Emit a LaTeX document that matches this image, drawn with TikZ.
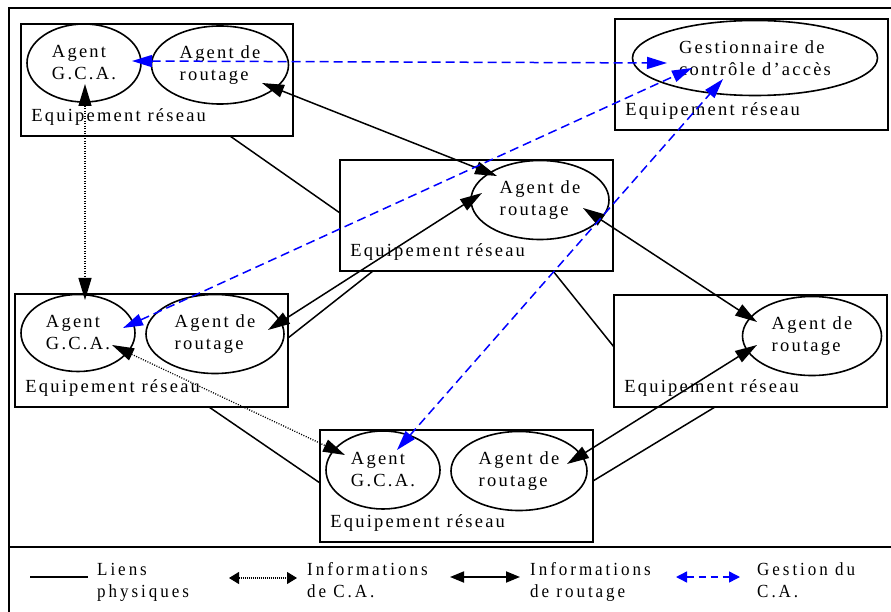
\documentclass[tikz,border=0pt]{standalone}
\usepackage{fontspec}
\setmainfont{Liberation Serif}[LetterSpace=12]
\newfontfamily\legfont{Liberation Serif}[FakeStretch=0.92, LetterSpace=16]
\usetikzlibrary{arrows.meta,shapes.geometric}
\definecolor{gcablue}{RGB}{0,0,255}
\tikzset{
  box/.style={draw, line width=1.6pt, rectangle, inner sep=0pt},
  ell/.style={draw, line width=1.6pt, ellipse, inner sep=0pt, align=left,
    font=\fontsize{18.5}{22}\selectfont},
  lab/.style={anchor=base west, inner sep=0pt, font=\fontsize{18.5}{22}\selectfont},
  legtxt/.style={anchor=base west, inner sep=0pt, align=left,
    font=\legfont\fontsize{18.5}{22}\selectfont},
  phys/.style={line width=1.5pt},
  rout/.style={line width=1.5pt, {Triangle[length=22pt,width=13pt]}-{Triangle[length=22pt,width=13pt]}},
  cainfo/.style={line width=1.3pt, dash pattern=on 1pt off 1.5pt,
    {Triangle[length=22pt,width=13pt]}-{Triangle[length=22pt,width=13pt]}},
  gest/.style={line width=1.5pt, gcablue, dash pattern=on 9pt off 5pt,
    {Triangle[length=20pt,width=12pt]}-{Triangle[length=20pt,width=12pt]}},
}
\begin{document}
\begin{tikzpicture}[x=1pt,y=-1pt]
\useasboundingbox (0,0) rectangle (891,612);
% outer frame
\coordinate (fTL) at (9,8);
\coordinate (fTR) at (891,8);
\coordinate (fBL) at (9,612);
\coordinate (sL) at (9,547);
\coordinate (sR) at (891,547);
\draw[line width=1.6pt] (fTR) -- (fTL) -- (fBL);
\draw[line width=1.6pt] (sL) -- (sR);

% boxes
\node[box, minimum width=272pt, minimum height=112pt] (bA) at (157,80) {};
\node[box, minimum width=273pt, minimum height=111pt] (bB) at (751.5,74.5) {};
\node[box, minimum width=273pt, minimum height=111pt] (bC) at (476.5,215.5) {};
\node[box, minimum width=273pt, minimum height=113pt] (bD) at (151.5,350.5) {};
\node[box, minimum width=273pt, minimum height=112pt] (bE) at (750.5,351) {};
\node[box, minimum width=273pt, minimum height=112pt] (bF) at (456.5,486) {};

\foreach \b in {bA,bB,bC,bD,bE,bF}
  \node[lab] (l\b) at ([shift={(11,-15)}]\b.south west) {Equipement réseau};

% ellipses
\node[ell, minimum width=114pt, minimum height=78pt] (gA) at (84,63) {Agent\\G.C.A.};
\node[ell, minimum width=137pt, minimum height=78pt] (rA) at (220,65) {Agent de\\routage};
\node[ell, minimum width=245pt, minimum height=75pt] (gest) at (755,58) {Gestionnaire de\\contrôle d’accès};
\node[ell, minimum width=138pt, minimum height=79pt] (rC) at (540,200) {Agent de\\routage};
\node[ell, minimum width=114pt, minimum height=77pt] (gD) at (78,333) {Agent\\G.C.A.};
\node[ell, minimum width=138pt, minimum height=79pt] (rD) at (215,334) {Agent de\\routage};
\node[ell, minimum width=139pt, minimum height=79pt] (rE) at (812,336) {Agent de\\routage};
\node[ell, minimum width=114pt, minimum height=78pt] (gF) at (383,470) {Agent\\G.C.A.};
\node[ell, minimum width=136pt, minimum height=79pt] (rF) at (519,471) {Agent de\\routage};

% physical links
\coordinate (p1a) at (230,136); \coordinate (p1b) at (340,213);
\coordinate (p2a) at (553,271); \coordinate (p2b) at (614,347);
\coordinate (p3a) at (288,338); \coordinate (p3b) at (373,271);
\coordinate (p4a) at (209,407); \coordinate (p4b) at (320,483);
\coordinate (p5a) at (593,481); \coordinate (p5b) at (715,407);
\draw[phys] (p1a) -- (p1b);
\draw[phys] (p2a) -- (p2b);
\draw[phys] (p3a) -- (p3b);
\draw[phys] (p4a) -- (p4b);
\draw[phys] (p5a) -- (p5b);

% routing information
\coordinate (rA1) at (262,83);  \coordinate (rC1) at (497,176);
\coordinate (rD1) at (268,330); \coordinate (rC2) at (482,193);
\coordinate (rC3) at (583,208); \coordinate (rE1) at (757,322);
\coordinate (rF1) at (567,464); \coordinate (rE2) at (757,345);
\draw[rout] (rA1) -- (rC1);
\draw[rout] (rD1) -- (rC2);
\draw[rout] (rC3) -- (rE1);
\draw[rout] (rF1) -- (rE2);

% CA information
\coordinate (gA1) at (85,84);   \coordinate (gD1) at (85,300);
\coordinate (gD2) at (112,345); \coordinate (gF1) at (345,455);
\draw[cainfo] (gA1) -- (gD1);
\draw[cainfo] (gD2) -- (gF1);

% CA management
\coordinate (gA2) at (132,61);  \coordinate (ge1) at (667,63);
\coordinate (gD3) at (123,328); \coordinate (ge2) at (692,68);
\coordinate (gF2) at (397,450); \coordinate (ge3) at (723,79);
\draw[gest] (gA2) -- (ge1);
\draw[gest] (gD3) -- (ge2);
\draw[gest] (gF2) -- (ge3);

% legend
\coordinate (L1a) at (30,577);  \coordinate (L1b) at (88,577);
\coordinate (L2a) at (229,578); \coordinate (L2b) at (297,578);
\coordinate (L3a) at (450,577); \coordinate (L3b) at (520,577);
\coordinate (L4a) at (676,577); \coordinate (L4b) at (740,577);
\draw[phys] (L1a) -- (L1b);
\draw[line width=1.1pt, dash pattern=on 0.8pt off 1.2pt,
  {Triangle[length=10pt,width=12pt]}-{Triangle[length=10pt,width=12pt]}] (L2a) -- (L2b);
\draw[line width=1.8pt, {Triangle[length=14pt,width=11pt]}-{Triangle[length=14pt,width=11pt]}] (L3a) -- (L3b);
\draw[line width=1.4pt, gcablue, dash pattern=on 7pt off 5pt,
  {Triangle[length=11pt,width=11pt]}-{Triangle[length=11pt,width=11pt]}] (L4a) -- (L4b);
\node[legtxt] (t1) at (97,597) {Liens\\physiques};
\node[legtxt] (t2) at (307,597) {Informations\\de C.A.};
\node[legtxt] (t3) at (530,597) {Informations\\de routage};
\node[legtxt] (t4) at (757,597) {Gestion du\\C.A.};
\end{tikzpicture}
\end{document}
